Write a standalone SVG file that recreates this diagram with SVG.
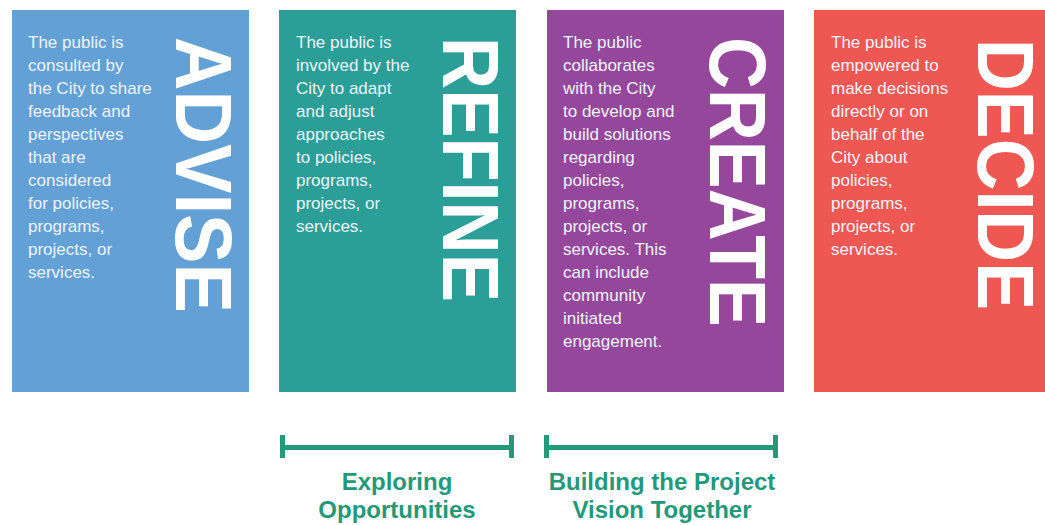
<svg xmlns="http://www.w3.org/2000/svg" width="1045" height="525" viewBox="0 0 1045 525">
<style>
.body{font-family:"Liberation Sans",Arial,sans-serif;font-size:17px;fill:#eef4fa}
.title{font-family:"Liberation Sans",Arial,sans-serif;font-weight:bold;font-size:80px;fill:#ffffff}
.lbl{font-family:"Liberation Sans",Arial,sans-serif;font-weight:bold;font-size:24px;fill:#24997a;text-anchor:middle}
.br{stroke:#24997a;stroke-width:5;fill:none}
</style>
<rect width="1045" height="525" fill="#ffffff"/>
<g id="advise">
<rect x="12" y="10" width="237" height="382" fill="#63a0d6"/>
<text class="body"><tspan x="28" y="48">The public is</tspan><tspan x="28" y="71">consulted by</tspan><tspan x="28" y="94">the City to share</tspan><tspan x="28" y="117">feedback and</tspan><tspan x="28" y="140">perspectives</tspan><tspan x="28" y="163">that are</tspan><tspan x="28" y="186">considered</tspan><tspan x="28" y="209">for policies,</tspan><tspan x="28" y="232">programs,</tspan><tspan x="28" y="255">projects, or</tspan><tspan x="28" y="278">services.</tspan></text>
<text class="title" transform="translate(176,37) rotate(90)" x="0" y="0" textLength="276" lengthAdjust="spacingAndGlyphs">ADVISE</text>
</g>
<g id="refine">
<rect x="279" y="10" width="237" height="382" fill="#2a9e97"/>
<text class="body"><tspan x="296" y="48">The public is</tspan><tspan x="296" y="71">involved by the</tspan><tspan x="296" y="94">City to adapt</tspan><tspan x="296" y="117">and adjust</tspan><tspan x="296" y="140">approaches</tspan><tspan x="296" y="163">to policies,</tspan><tspan x="296" y="186">programs,</tspan><tspan x="296" y="209">projects, or</tspan><tspan x="296" y="232">services.</tspan></text>
<text class="title" transform="translate(443,37) rotate(90)" x="0" y="0" textLength="265" lengthAdjust="spacingAndGlyphs">REFINE</text>
</g>
<g id="create">
<rect x="547" y="10" width="237" height="382" fill="#94479b"/>
<text class="body"><tspan x="563" y="48">The public</tspan><tspan x="563" y="71">collaborates</tspan><tspan x="563" y="94">with the City</tspan><tspan x="563" y="117">to develop and</tspan><tspan x="563" y="140">build solutions</tspan><tspan x="563" y="163">regarding</tspan><tspan x="563" y="186">policies,</tspan><tspan x="563" y="209">programs,</tspan><tspan x="563" y="232">projects, or</tspan><tspan x="563" y="255">services. This</tspan><tspan x="563" y="278">can include</tspan><tspan x="563" y="301">community</tspan><tspan x="563" y="324">initiated</tspan><tspan x="563" y="347">engagement.</tspan></text>
<text class="title" transform="translate(710,37) rotate(90)" x="0" y="0" textLength="290" lengthAdjust="spacingAndGlyphs">CREATE</text>
</g>
<g id="decide">
<rect x="814" y="10" width="231" height="382" fill="#ef5753"/>
<text class="body"><tspan x="831" y="48">The public is</tspan><tspan x="831" y="71">empowered to</tspan><tspan x="831" y="94">make decisions</tspan><tspan x="831" y="117">directly or on</tspan><tspan x="831" y="140">behalf of the</tspan><tspan x="831" y="163">City about</tspan><tspan x="831" y="186">policies,</tspan><tspan x="831" y="209">programs,</tspan><tspan x="831" y="232">projects, or</tspan><tspan x="831" y="255">services.</tspan></text>
<text class="title" transform="translate(978,39) rotate(90)" x="0" y="0" textLength="271" lengthAdjust="spacingAndGlyphs">DECIDE</text>
</g>
<g id="connectors">
<path class="br" d="M282.5 435V458M282.5 447.5H511.5M511.5 435V458"/>
<path class="br" d="M546.5 435V458M546.5 447.5H775.5M775.5 435V458"/>
</g>
<g id="labels">
<text class="lbl" x="397" y="490">Exploring</text>
<text class="lbl" x="397" y="518">Opportunities</text>
<text class="lbl" x="662" y="490">Building the Project</text>
<text class="lbl" x="662" y="518">Vision Together</text>
</g>
</svg>
